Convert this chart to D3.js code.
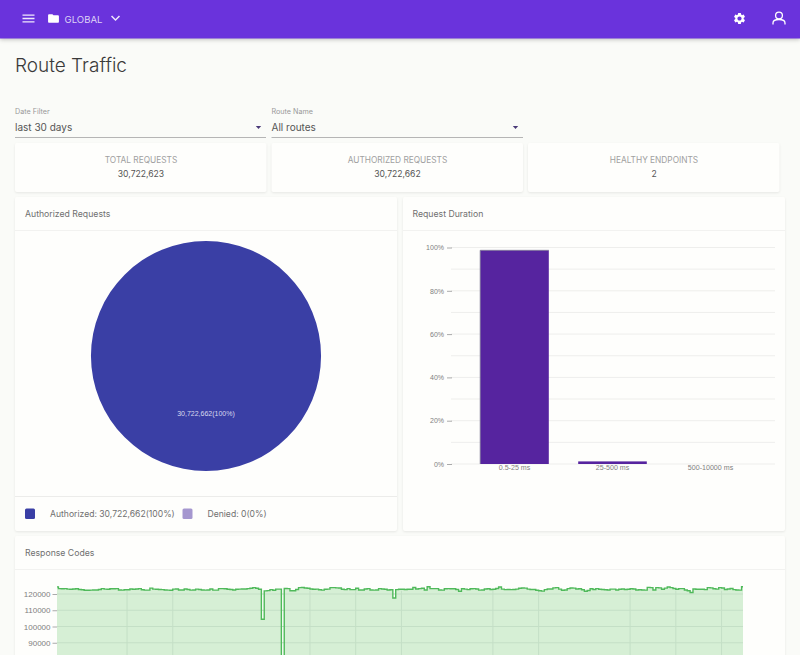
<!DOCTYPE html>
<html>
<head>
<meta charset="utf-8">
<script src="https://cdnjs.cloudflare.com/ajax/libs/d3/7.8.5/d3.min.js"></script>
<style>
  html, body { margin: 0; padding: 0; background: #fafbf8; overflow: hidden; }
  svg { display: block; font-family: "Inter", sans-serif; }
  .card { fill: #fefefc; filter: drop-shadow(0 1px 1px rgba(0,0,0,0.08)); }
  .axis-text { font-family: "Liberation Sans", Arial, sans-serif; fill: #808080; }
</style>
</head>
<body>
<div id="page"></div>
<script>
  var statTitles = ['TOTAL REQUESTS', 'AUTHORIZED REQUESTS', 'HEALTHY ENDPOINTS'];
  var statValues = ['30,722,623', '30,722,662', '2'];

  var authLabels = ['Authorized', 'Denied'];
  var authValues = [30722662, 0];
  var authColors = ['#3a3fa5', '#a597cf'];

  var durationBuckets = ['0.5-25 ms', '25-500 ms', '500-10000 ms'];
  var durationPercents = [98.7, 1.2, 0];
  var durationTicks = [0, 20, 40, 60, 80, 100];
  var durationGrid = [0, 10, 20, 30, 40, 50, 60, 70, 80, 90, 100];

  var responseTicks = [120000, 110000, 100000, 90000];
  // 3 hour samples over the 30 days
  var responseCounts = [
    124400,123300,123200,123300,123000,122900,123100,123200,122800,122600,
    122300,122300,122400,122500,122500,122800,123300,123000,122900,123200,
    123200,123300,122500,122400,122600,122600,123100,122900,123100,123300,
    122600,122400,122400,123600,123000,122900,122800,122700,122500,122400,
    122300,123000,123100,122500,122500,123100,122800,122400,122500,123000,
    122800,122500,122400,122500,123100,122400,122400,123300,123300,123200,
    122900,122800,122500,122900,123000,123100,123100,123300,123500,123900,
    123500,122900,104500,121900,122100,122700,122300,123000,123000,0,
    123400,123300,122000,122000,122800,123900,124000,123700,123500,123100,
    122900,123000,122600,122400,122900,123000,123900,123900,123800,123700,
    122900,122700,123300,122700,122700,123500,122500,122500,123100,123300,
    122500,122400,122500,123300,123100,122900,122500,122600,117500,122700,
    122900,122900,122800,122900,122900,124000,123100,123300,123500,122500,
    124500,123300,123300,123300,122500,122400,123200,123300,123200,123200,
    122800,121700,123200,123000,122700,123200,123300,123100,122400,122500,
    123100,123200,122800,122900,123400,124300,123000,122700,122800,122700,
    122800,123000,123500,123700,123600,123000,122800,122800,122300,122000,
    121800,122700,123100,123100,123800,123900,123000,122300,122500,123300,
    123700,123600,123100,123200,122600,121700,122200,123200,122800,123300,
    122900,122800,122600,122500,123000,123000,122500,122900,123100,122800,
    122900,123200,123100,122500,122600,122500,122400,124100,123900,122500,
    123900,123800,122900,123600,124300,123900,123400,122900,123300,123300,
    122500,122000,120900,123100,122900,122900,122900,122700,123900,123800,
    123200,123000,123900,123700,122800,123100,123400,122700,122500,122400,
    124500
  ];
  var responseGrid = [24.5, 40.5, 88.5, 104.5, 120.5, 152.5, 168.5, 200.5, 216.5, 232.5];

  var width = 800;
  var height = 655;

  var svg = d3.select('#page').append('svg')
    .attr('width', width)
    .attr('height', height);

  var addText = function(x, y, str, size, color, anchor) {
    return svg.append('text')
      .attr('x', x)
      .attr('y', y)
      .attr('font-size', size)
      .attr('fill', color)
      .attr('text-anchor', anchor || 'start')
      .text(str);
  };

  var addCard = function(x, y, w, h) {
    svg.append('rect').attr('class', 'card')
      .attr('x', x).attr('y', y)
      .attr('width', w).attr('height', h)
      .attr('rx', 2);
  };

  var addRule = function(x1, x2, y, color) {
    svg.append('line')
      .attr('x1', x1).attr('x2', x2)
      .attr('y1', y).attr('y2', y)
      .attr('stroke', color);
  };

  var addIcon = function(path, cx, cy, size, color) {
    var k = size / 24;
    svg.append('path')
      .attr('d', path)
      .attr('fill', color)
      .attr('transform', 'translate(' + (cx - size / 2) + ',' + (cy - size / 2) + ') scale(' + k + ')');
  };

  // Top bar
  svg.append('rect')
    .attr('width', width).attr('height', 38.5)
    .attr('fill', '#6a33dc')
    .style('filter', 'drop-shadow(0 1px 2px rgba(0,0,0,0.25))');

  addIcon('M3 18h18v-2H3v2zm0-5h18v-2H3v2zm0-7v2h18V6H3z', 28.5, 18.5, 16, '#efe9fb');
  addIcon('M10 4H4c-1.1 0-1.99.9-1.99 2L2 18c0 1.1.9 2 2 2h16c1.1 0 2-.9 2-2V8c0-1.1-.9-2-2-2h-8l-2-2z', 53.5, 18.5, 13, '#ffffff');
  addText(64.5, 22.5, 'GLOBAL', 9.6, '#ddd2f6');
  addIcon('M16.59 8.59L12 13.17 7.41 8.59 6 10l6 6 6-6z', 115.5, 18, 18, '#efe9fb');
  addIcon('M19.14,12.94c0.04-0.3,0.06-0.61,0.06-0.94c0-0.32-0.02-0.64-0.07-0.94l2.03-1.58c0.18-0.14,0.23-0.41,0.12-0.61 l-1.92-3.32c-0.12-0.22-0.37-0.29-0.59-0.22l-2.39,0.96c-0.5-0.38-1.03-0.7-1.62-0.94L14.4,2.81c-0.04-0.24-0.24-0.41-0.48-0.41 h-3.84c-0.24,0-0.43,0.17-0.47,0.41L9.25,5.35C8.66,5.59,8.12,5.92,7.63,6.29L5.24,5.33c-0.22-0.08-0.47,0-0.59,0.22L2.74,8.87 C2.62,9.08,2.66,9.34,2.86,9.48l2.03,1.58C4.84,11.36,4.8,11.69,4.8,12s0.02,0.64,0.07,0.94l-2.03,1.58 c-0.18,0.14-0.23,0.41-0.12,0.61l1.92,3.32c0.12,0.22,0.37,0.29,0.59,0.22l2.39-0.96c0.5,0.38,1.03,0.7,1.62,0.94l0.36,2.54 c0.05,0.24,0.24,0.41,0.48,0.41h3.84c0.24,0,0.44-0.17,0.47-0.41l0.36-2.54c0.59-0.24,1.13-0.56,1.62-0.94l2.39,0.96 c0.22,0.08,0.47,0,0.59-0.22l1.92-3.32c0.12-0.22,0.07-0.47-0.12-0.61L19.14,12.94z M12,15.6c-1.98,0-3.6-1.62-3.6-3.6 s1.62-3.6,3.6-3.6s3.6,1.62,3.6,3.6S13.98,15.6,12,15.6z', 739.5, 18.5, 14, '#ffffff');

  // user icon
  svg.append('circle')
    .attr('cx', 779).attr('cy', 15.5).attr('r', 3.4)
    .attr('fill', 'none').attr('stroke', '#ffffff').attr('stroke-width', 1.3);
  svg.append('path')
    .attr('d', 'M773 24.5v-1.5c0-2 2.5-3.5 6-3.5s6 1.5 6 3.5v1.5')
    .attr('fill', 'none').attr('stroke', '#ffffff').attr('stroke-width', 1.3);

  addText(15, 72, 'Route Traffic', 19, '#3a3a3a').attr('font-weight', 300);

  // Filters
  var filterLabels = ['Date Filter', 'Route Name'];
  var filterValues = ['last 30 days', 'All routes'];
  filterLabels.forEach(function(label, i) {
    var x = i === 0 ? 15 : 271.5;
    var right = i === 0 ? 266 : 523;
    addText(x, 114, label, 7.2, '#999999');
    addText(x, 131, filterValues[i], 10, '#555555');
    addRule(x, right, 137.5, '#b5b5b5');
    svg.append('path')
      .attr('d', 'M-2.7,-1.4L2.7,-1.4L0,1.6Z')
      .attr('fill', '#4a3a78')
      .attr('transform', 'translate(' + (right - 7.5) + ',127.5)');
  });

  // Stat cards
  statTitles.forEach(function(title, i) {
    var x = [15, 271.5, 528][i];
    addCard(x, 143, 251.5, 49);
    addText(x + 126, 163, title, 8.3, '#a0a0a0', 'middle');
    addText(x + 126, 177, statValues[i], 8.6, '#555555', 'middle');
  });

  // Authorized Requests card
  addCard(15, 197, 382, 334);
  addRule(15, 397, 230.5, '#f2f2f0');
  addRule(15, 397, 496.5, '#ececea');
  addText(25, 217, 'Authorized Requests', 8.7, '#707070');

  var pie = d3.pie().sort(null);
  var arc = d3.arc().innerRadius(0).outerRadius(115);
  var pieGroup = svg.append('g').attr('transform', 'translate(206,356)');
  var slices = pie(authValues);

  pieGroup.selectAll('path')
    .data(slices)
    .enter()
    .append('path')
    .attr('d', arc)
    .attr('fill', function(d, i) { return authColors[i]; });

  pieGroup.append('text')
    .attr('transform', 'translate(' + arc.centroid(slices[0]) + ')')
    .attr('dy', '0.35em')
    .attr('text-anchor', 'middle')
    .attr('font-family', '"Liberation Sans", Arial, sans-serif')
    .attr('font-size', 7)
    .attr('fill', '#d9d9ee')
    .text(d3.format(',')(authValues[0]) + '(100%)');

  authLabels.forEach(function(label, i) {
    var x = i === 0 ? 25 : 182.5;
    var total = d3.sum(authValues);
    svg.append('rect')
      .attr('x', x).attr('y', 508.5)
      .attr('width', 10).attr('height', 10.5)
      .attr('rx', 1.5)
      .attr('fill', authColors[i]);
    addText(x + 25, 517, label + ': ' + d3.format(',')(authValues[i]) + '(' + Math.round(authValues[i] / total * 100) + '%)', 8.6, '#707070');
  });

  // Request Duration card
  addCard(403, 197, 382, 334);
  addRule(403, 785, 230.5, '#f2f2f0');
  addText(412.5, 217, 'Request Duration', 8.7, '#707070');

  var durationX = d3.scaleBand()
    .domain(durationBuckets)
    .range([465.5, 759.5])
    .paddingInner(0.3)
    .paddingOuter(0.15);

  var durationY = d3.scaleLinear()
    .domain([0, 100])
    .range([464, 247.5]);

  svg.append('g').selectAll('line')
    .data(durationGrid)
    .enter()
    .append('line')
    .attr('x1', 451).attr('x2', 775)
    .attr('y1', function(d) { return durationY(d); })
    .attr('y2', function(d) { return durationY(d); })
    .attr('stroke', '#eeeeec');

  var durationAxis = svg.append('g')
    .attr('transform', 'translate(452,0)')
    .call(d3.axisLeft(durationY).tickValues(durationTicks).tickSize(5).tickPadding(3).tickFormat(function(d) { return d + '%'; }));
  durationAxis.select('.domain').remove();
  durationAxis.selectAll('line').attr('stroke', '#aaa');
  durationAxis.selectAll('text').attr('class', 'axis-text').attr('font-size', 7);

  svg.append('g').selectAll('rect')
    .data(durationPercents)
    .enter()
    .append('rect')
    .attr('x', function(d, i) { return durationX(durationBuckets[i]); })
    .attr('y', function(d) { return durationY(d); })
    .attr('width', durationX.bandwidth())
    .attr('height', function(d) { return durationY(0) - durationY(d); })
    .attr('fill', '#56249f');

  // the tall bar has a grey edge on its left and top
  svg.append('path')
    .attr('d', 'M' + durationX(durationBuckets[0]) + ',' + durationY(0)
      + 'V' + durationY(durationPercents[0])
      + 'H' + (durationX(durationBuckets[0]) + durationX.bandwidth()))
    .attr('fill', 'none')
    .attr('stroke', '#7f7895')
    .attr('stroke-width', 0.8);

  var durationXAxis = svg.append('g')
    .attr('transform', 'translate(0,464)')
    .call(d3.axisBottom(durationX).tickSize(0).tickPadding(1));
  durationXAxis.select('.domain').remove();
  durationXAxis.selectAll('text').attr('class', 'axis-text').attr('font-size', 7.1);

  // Response Codes card
  addCard(15, 536, 770, 140);
  addRule(15, 785, 569.5, '#f2f2f0');
  addText(25, 556, 'Response Codes', 8.7, '#707070');

  var responseX = d3.scaleLinear()
    .domain([0, responseCounts.length - 1])
    .range([57, 743]);

  var responseY = d3.scaleLinear()
    .domain([0, 120000])
    .range([789, 594]);

  var responseArea = d3.area()
    .x(function(d, i) { return responseX(i); })
    .y0(responseY(0))
    .y1(function(d) { return responseY(d); })
    .curve(d3.curveStep);

  var responseLine = d3.line()
    .x(function(d, i) { return responseX(i); })
    .y(function(d) { return responseY(d); })
    .curve(d3.curveStep);

  svg.append('path')
    .datum(responseCounts)
    .attr('d', responseArea)
    .attr('fill', '#d6efd5');

  svg.append('g').selectAll('line')
    .data(responseTicks)
    .enter()
    .append('line')
    .attr('x1', 57).attr('x2', 743)
    .attr('y1', function(d) { return responseY(d); })
    .attr('y2', function(d) { return responseY(d); })
    .attr('stroke', '#c4dfc6');

  svg.append('g').selectAll('line')
    .data(responseGrid)
    .enter()
    .append('line')
    .attr('x1', function(d) { return responseX(d); })
    .attr('x2', function(d) { return responseX(d); })
    .attr('y1', function(d) { return responseY(122000); })
    .attr('y2', height)
    .attr('stroke', '#c4dfc6');

  svg.append('path')
    .datum(responseCounts)
    .attr('d', responseLine)
    .attr('fill', 'none')
    .attr('stroke', '#4fb95a')
    .attr('stroke-width', 1.4);

  var responseAxis = svg.append('g')
    .attr('transform', 'translate(57,0)')
    .call(d3.axisLeft(responseY).tickValues(responseTicks).tickSize(4.5).tickPadding(2).tickFormat(d3.format('d')));
  responseAxis.select('.domain').remove();
  responseAxis.selectAll('line').attr('stroke', '#aaa');
  responseAxis.selectAll('text').attr('class', 'axis-text').attr('font-size', 8);
</script>
</body>
</html>
